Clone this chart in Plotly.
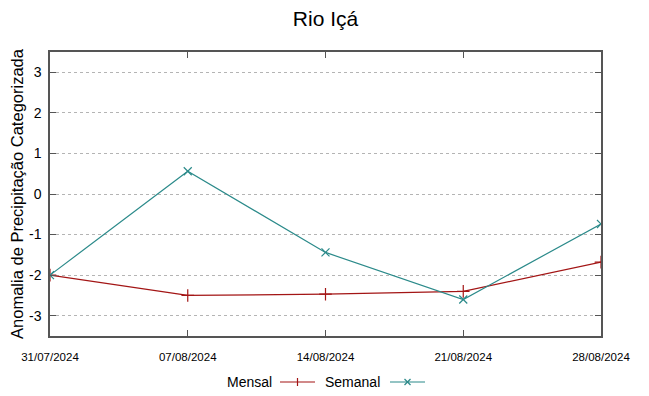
import plotly.graph_objects as go

dates = ["2024-07-31", "2024-08-07", "2024-08-14", "2024-08-21", "2024-08-28"]
tick_labels = ["31/07/2024", "07/08/2024", "14/08/2024", "21/08/2024", "28/08/2024"]
y_ticks = [-3, -2, -1, 0, 1, 2, 3]
y_tick_labels = ["-3", "-2", "-1", "0", "1", "2", "3"]
mensal = [-2.0, -2.5, -2.47, -2.4, -1.68]
semanal = [-2.0, 0.56, -1.44, -2.6, -0.74]

RED = "#a31515"
TEAL = "#2b8a8a"
FONT = "Liberation Sans, Arial, sans-serif"

fig = go.Figure()
fig.add_trace(go.Scatter(x=dates, y=mensal, mode="lines+markers", name="Mensal",
                         line=dict(color=RED, width=1.2),
                         marker=dict(symbol="cross-thin", size=9, line=dict(color=RED, width=1.2)),
                         showlegend=False))
fig.add_trace(go.Scatter(x=dates, y=semanal, mode="lines+markers", name="Semanal",
                         line=dict(color=TEAL, width=1.2),
                         marker=dict(symbol="x-thin", size=8, line=dict(color=TEAL, width=1.2)),
                         showlegend=False))

W, H = 649, 396
L, R, T, B = 50, 48, 52, 60
pw, ph = W - L - R, H - T - B

def px2x(px):
    return (px - L) / pw

def px2y(py):
    return 1 - (py - T) / ph

# custom legend (text then line sample, gnuplot style)
shapes = []
annotations = []
legend_items = [("Mensal", RED, "+", 274, 280, 315), ("Semanal", TEAL, "x", 382, 390, 425)]
ly = 382
for name, col, sym, tx, x0, x1 in legend_items:
    annotations.append(dict(text=name, x=px2x(tx), y=px2y(ly), xref="paper", yref="paper",
                            xanchor="right", yanchor="middle", showarrow=False,
                            font=dict(family=FONT, size=14, color="#000")))
    shapes.append(dict(type="line", xref="paper", yref="paper", x0=px2x(x0), x1=px2x(x1),
                       y0=px2y(ly), y1=px2y(ly), line=dict(color=col, width=1.2)))
    cx = (x0 + x1) / 2
    if sym == "+":
        shapes.append(dict(type="line", xref="paper", yref="paper", x0=px2x(cx), x1=px2x(cx),
                           y0=px2y(ly - 4), y1=px2y(ly + 4), line=dict(color=col, width=1.2)))
    else:
        shapes.append(dict(type="line", xref="paper", yref="paper", x0=px2x(cx - 3), x1=px2x(cx + 3),
                           y0=px2y(ly - 3), y1=px2y(ly + 3), line=dict(color=col, width=1.2)))
        shapes.append(dict(type="line", xref="paper", yref="paper", x0=px2x(cx - 3), x1=px2x(cx + 3),
                           y0=px2y(ly + 3), y1=px2y(ly - 3), line=dict(color=col, width=1.2)))

fig.update_layout(
    width=W, height=H,
    margin=dict(l=L, r=R, t=T, b=B, autoexpand=False),
    paper_bgcolor="white", plot_bgcolor="white",
    title=dict(text="Rio Içá", x=0.5, xref="paper", xanchor="center", y=1 - 19 / H, yanchor="middle",
               font=dict(family=FONT, size=21, color="#000")),
    font=dict(family=FONT, color="#000"),
    shapes=shapes, annotations=annotations,
    showlegend=False,
)
fig.update_xaxes(type="date", range=[dates[0], dates[-1]], tickvals=dates, ticktext=tick_labels,
                 ticks="inside", ticklen=6, tickcolor="#555", mirror="allticks",
                 showline=True, linecolor="#555", linewidth=1.5, showgrid=False, zeroline=False,
                 automargin=False, ticklabelstandoff=9,
                 tickfont=dict(family="Liberation Sans Narrow, " + FONT, size=11.5))
fig.update_yaxes(range=[-3.5, 3.5], tickvals=y_ticks, ticktext=y_tick_labels,
                 ticks="inside", ticklen=6, tickcolor="#555", mirror="allticks",
                 showline=True, linecolor="#555", linewidth=1.5, automargin=False,
                 ticklabelstandoff=4,
                 showgrid=True, gridcolor="#b4b4b4", griddash="dot", gridwidth=1, zeroline=False,
                 tickfont=dict(family=FONT, size=14),
                 title=dict(text="Anomalia de Precipitação Categorizada", standoff=1,
                            font=dict(family=FONT, size=16.5)))

fig.write_html("out.html", config={"displayModeBar": False},
               post_script="document.body.style.margin='0px';document.body.style.overflow='hidden';")
